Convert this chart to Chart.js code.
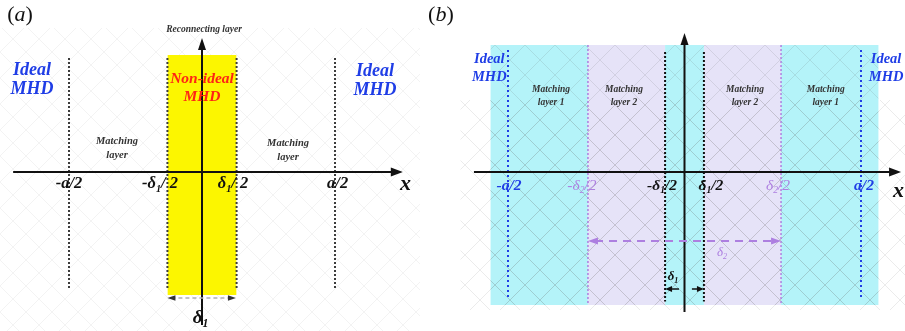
<!DOCTYPE html>
<html>
<head>
<meta charset="utf-8">
<script src="https://cdn.jsdelivr.net/npm/chart.js@4.4.1/dist/chart.umd.min.js"></script>
<style>
  html, body { margin: 0; padding: 0; background: #fff; width: 905px; height: 331px; overflow: hidden; }
  .panel { position: absolute; top: 0; height: 331px; }
  #wrapA { left: 0; width: 420px; }
  #wrapB { left: 420px; width: 485px; }
</style>
</head>
<body>
<div class="panel" id="wrapA"><canvas id="panelA" width="420" height="331"></canvas></div>
<div class="panel" id="wrapB"><canvas id="panelB" width="485" height="331"></canvas></div>
<script>
// ---------- data (x measured in units of a/2) ----------
// Panel (a): one matching layer on each side of the reconnecting layer
const aEdges      = [-1, -0.26, 0.26, 1];                  // -a/2, -δ1/2, δ1/2, a/2
const aEdgeLabels = ['-a/2', '-δ_1/ 2', 'δ_1/ 2', 'a/2'];
const aCore       = [-0.26, 0.26];                         // non-ideal (reconnecting) layer
const aZoneLabels = ['Ideal\nMHD', 'Matching\nlayer', 'Non-ideal\nMHD', 'Matching\nlayer', 'Ideal\nMHD'];

// Panel (b): two nested matching layers
const bEdges      = [-1, -0.547, -0.11, 0.11, 0.547, 1];   // -a/2, -δ2/2, -δ1/2, δ1/2, δ2/2, a/2
const bEdgeLabels = ['-a/2', '-δ_2/2', '-δ_1/2', 'δ_1/2', 'δ_2/2', 'a/2'];
const bBandEdges  = [-1.1, -0.547, -0.11, 0.11, 0.547, 1.1];
const bZoneLabels = ['Ideal\nMHD', 'Matching\nlayer 1', 'Matching\nlayer 2', 'Matching\nlayer 2', 'Matching\nlayer 1', 'Ideal\nMHD'];

// ---------- styles ----------
const SERIF = '"Liberation Serif", "DejaVu Serif", serif';
const BLUE = '#1f3de6', RED = '#ff2414', INK = '#111', GREY_TXT = '#333';
const PURPLE = '#ad7fe0', CYAN = '#b4f3f9', LAVENDER = '#e6e3f8';

// ---------- helpers ----------
function hatch(alpha, tile) {
  const c = document.createElement('canvas');
  c.width = c.height = tile;
  const g = c.getContext('2d');
  g.strokeStyle = `rgba(90,90,90,${alpha})`;
  g.lineWidth = 1;
  g.beginPath();
  g.moveTo(0, 0); g.lineTo(tile, tile);
  g.moveTo(tile, 0); g.lineTo(0, tile);
  g.stroke();
  return g.createPattern(c, 'repeat');
}

function band(x0, x1, top, bottom, color) {
  return {
    data: [{ x: x0, y: top }, { x: x1, y: top }],
    fill: { value: bottom }, backgroundColor: color,
    borderColor: 'rgba(0,0,0,0)', borderWidth: 0, pointRadius: 0
  };
}

function seg(p0, p1, color, width, dash) {
  return {
    data: [{ x: p0[0], y: p0[1] }, { x: p1[0], y: p1[1] }],
    fill: false, borderColor: color, borderWidth: width,
    borderDash: dash || [], borderCapStyle: 'butt', pointRadius: 0
  };
}

// bottom-to-top list -> Chart.js draw order
function stack(list) {
  return list.map((d, i) => Object.assign(d, { order: list.length - i }));
}

// text with '_' (subscript next char), '~' (toggle italic), '\n' (new line)
function drawRich(ctx, text, cx, cy, st) {
  const size = st.size, lh = st.lineHeight || size * 1.1;
  const lines = text.split('\n');
  const top = cy - (lines.length - 1) * lh / 2;
  lines.forEach((line, li) => {
    const runs = [];
    let italic = st.italic !== false;
    for (let i = 0; i < line.length; i++) {
      const ch = line[i];
      if (ch === '~') { italic = !italic; continue; }
      if (ch === '_') { runs.push({ t: line[i + 1], sub: true, italic }); i++; continue; }
      runs.push({ t: ch, sub: false, italic });
    }
    const fontFor = r => `${r.italic ? 'italic ' : ''}${st.weight || 'bold'} ${r.sub ? size * 0.62 : size}px ${SERIF}`;
    let w = 0;
    runs.forEach(r => { ctx.font = fontFor(r); r.w = ctx.measureText(r.t).width; w += r.w; });
    let x = st.align === 'left' ? cx : st.align === 'right' ? cx - w : cx - w / 2;
    const y = top + li * lh;
    ctx.fillStyle = st.color || INK;
    ctx.textBaseline = 'middle';
    ctx.textAlign = 'left';
    runs.forEach(r => {
      ctx.font = fontFor(r);
      ctx.fillText(r.t, x, y + (r.sub ? size * 0.3 : 0));
      x += r.w;
    });
  });
}

// arrowheads and annotation text, placed through the chart's own scales
const sketchPlugin = {
  id: 'sketch',
  afterDatasetsDraw(chart, args, opts) {
    const ctx = chart.ctx, xs = chart.scales.x, ys = chart.scales.y;
    const px = v => xs.getPixelForValue(v), py = v => ys.getPixelForValue(v);
    ctx.save();
    (opts.arrows || []).forEach(a => {
      const x1 = px(a.to[0]), y1 = py(a.to[1]);
      const x0 = px(a.from[0]), y0 = py(a.from[1]);
      const ang = Math.atan2(y1 - y0, x1 - x0), L = a.len, W = a.half;
      const c = Math.cos(ang), s = Math.sin(ang);
      ctx.fillStyle = a.color;
      ctx.beginPath();
      ctx.moveTo(x1, y1);
      ctx.lineTo(x1 - L * c + W * s, y1 - L * s - W * c);
      ctx.lineTo(x1 - L * c - W * s, y1 - L * s + W * c);
      ctx.closePath();
      ctx.fill();
    });
    (opts.texts || []).forEach(t => drawRich(ctx, t.text, px(t.x), py(t.y), t));
    ctx.restore();
  }
};

function makeChart(id, xRange, yRange, datasets, sketch) {
  return new Chart(document.getElementById(id), {
    type: 'line',
    data: { datasets },
    options: {
      responsive: false, animation: false, events: [],
      devicePixelRatio: 1,
      layout: { padding: 0 },
      scales: {
        x: { type: 'linear', min: xRange[0], max: xRange[1], display: false },
        y: { type: 'linear', min: yRange[0], max: yRange[1], display: false }
      },
      plugins: { legend: { display: false }, tooltip: { enabled: false }, sketch }
    },
    plugins: [sketchPlugin]
  });
}

// ---------- panel (a) ----------
(function () {
  const top = 0.975, bottom = -1.025;
  const list = [
    band(-1.52, 1.64, 1.2, -1.33, hatch(0.07, 26)),
    band(aCore[0], aCore[1], top, bottom, '#fcf600')
  ];
  aEdges.forEach(x => list.push(seg([x, 0.95], [x, -0.983], '#3c3c3c', 2, [2, 2])));
  list.push(seg([-1.42, 0], [1.49, 0], INK, 2));
  list.push(seg([0, -1.275], [0, 1.08], INK, 2));
  list.push(seg([aCore[0] + 0.03, -1.05], [aCore[1] - 0.03, -1.05], '#b0b0b0', 1.5, [4, 3]));

  const tickX = [-1.0, -0.316, 0.233, 1.02];
  const texts = [
    { text: '(~a~)', x: -1.368, y: 1.308, size: 22, italic: false, weight: 'normal' },
    { text: 'Reconnecting layer', x: 0.015, y: 1.183, size: 9.5, color: GREY_TXT },
    { text: aZoneLabels[0], x: -1.278, y: 0.77, size: 18, color: BLUE, lineHeight: 19 },
    { text: aZoneLabels[1], x: -0.639, y: 0.2, size: 10.5, color: GREY_TXT, lineHeight: 14 },
    { text: aZoneLabels[2], x: 0.0, y: 0.70, size: 15.5, color: RED, lineHeight: 18 },
    { text: aZoneLabels[3], x: 0.647, y: 0.183, size: 10.5, color: GREY_TXT, lineHeight: 14 },
    { text: aZoneLabels[4], x: 1.30, y: 0.76, size: 18, color: BLUE, lineHeight: 19 },
    { text: 'x', x: 1.53, y: -0.1, size: 22 },
    { text: 'δ_1', x: -0.01, y: -1.217, size: 19 }
  ];
  aEdgeLabels.forEach((t, i) => texts.push({ text: t, x: tickX[i], y: -0.1, size: 16.5 }));

  const arrows = [
    { from: [1.3, 0], to: [1.51, 0], len: 12, half: 4.5, color: INK },
    { from: [0, 0.9], to: [0, 1.117], len: 12, half: 4, color: INK },
    { from: [0, -1.05], to: [aCore[0], -1.05], len: 8, half: 2.8, color: '#333' },
    { from: [0, -1.05], to: [aCore[1] - 0.005, -1.05], len: 8, half: 2.8, color: '#333' }
  ];
  makeChart('panelA', [-202 / 133, 218 / 133], [-159 / 120, 172 / 120], stack(list), { texts, arrows });
})();

// ---------- panel (b) ----------
(function () {
  const top = 1.058, bottom = -1.108;
  const bandColors = [CYAN, LAVENDER, CYAN, LAVENDER, CYAN];
  const list = [];
  for (let i = 0; i < bBandEdges.length - 1; i++) {
    list.push(band(bBandEdges[i], bBandEdges[i + 1], top, bottom, bandColors[i]));
  }
  list.push(band(-1.27, 1.25, 0.6, -1.15, hatch(0.12, 30)));
  list.push(band(bBandEdges[0], bBandEdges[5], top, bottom, hatch(0.14, 30)));
  const lineStyle = [
    [BLUE, 2, [2, 3], 1.017, -1.042],
    [PURPLE, 1.5, [2, 2], 1.058, -1.108],
    [INK, 2, [2, 2], 1.0, -1.08],
    [INK, 2, [2, 2], 1.0, -1.08],
    [PURPLE, 1.5, [2, 2], 1.058, -1.108],
    [BLUE, 2, [2, 3], 1.017, -1.042]
  ];
  bEdges.forEach((x, i) => {
    const s = lineStyle[i];
    list.push(seg([x, s[3]], [x, s[4]], s[0], s[1], s[2]));
  });
  list.push(seg([-1.193, 0], [1.205, 0], INK, 2));
  list.push(seg([0, -1.167], [0, 1.10], INK, 2));
  list.push(seg([bEdges[1] + 0.04, -0.575], [bEdges[4] - 0.04, -0.575], PURPLE, 2, [8, 6]));
  list.push(seg([-0.031, -0.975], [bEdges[2] + 0.02, -0.975], INK, 1.5));
  list.push(seg([0.042, -0.975], [bEdges[3] - 0.02, -0.975], INK, 1.5));

  const tickX = [-0.994, -0.581, -0.127, 0.150, 0.53, 1.017];
  const tickColor = [BLUE, PURPLE, INK, INK, PURPLE, BLUE];
  const zoneX = [-1.106, -0.756, -0.343, 0.343, 0.80, 1.142];
  const texts = [
    { text: '(~b~)', x: -1.380, y: 1.308, size: 22, italic: false, weight: 'normal' },
    { text: 'x', x: 1.212, y: -0.16, size: 22 },
    { text: 'δ_2', x: 0.212, y: -0.675, size: 13, color: PURPLE, weight: 'normal' },
    { text: 'δ_1', x: -0.065, y: -0.875, size: 13 }
  ];
  bZoneLabels.forEach((t, i) => {
    const ideal = i === 0 || i === 5;
    texts.push(ideal
      ? { text: t, x: zoneX[i], y: 0.867, size: 14.5, color: BLUE, lineHeight: 18 }
      : { text: t, x: zoneX[i], y: 0.63, size: 9.5, color: GREY_TXT, lineHeight: 13 });
  });
  bEdgeLabels.forEach((t, i) => texts.push({
    text: t, x: tickX[i], y: -0.117, size: 15.5, color: tickColor[i],
    weight: tickColor[i] === PURPLE ? 'normal' : 'bold'
  }));

  const arrows = [
    { from: [1.0, 0], to: [1.227, 0], len: 12, half: 4.5, color: INK },
    { from: [0, 0.9], to: [0, 1.158], len: 12, half: 4, color: INK },
    { from: [0, -0.575], to: [bEdges[1], -0.575], len: 10, half: 3.5, color: PURPLE },
    { from: [0, -0.575], to: [bEdges[4], -0.575], len: 10, half: 3.5, color: PURPLE },
    { from: [0, -0.975], to: [bEdges[2], -0.975], len: 7, half: 3, color: INK },
    { from: [0, -0.975], to: [bEdges[3], -0.975], len: 7, half: 3, color: INK }
  ];
  makeChart('panelB', [-264.5 / 176.5, 220.5 / 176.5], [-159 / 120, 172 / 120], stack(list), { texts, arrows });
})();
</script>
</body>
</html>
